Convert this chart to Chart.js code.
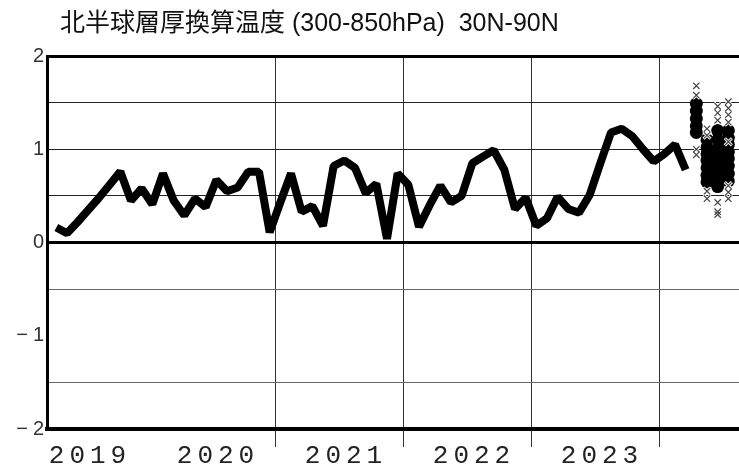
<!DOCTYPE html>
<html><head><meta charset="utf-8">
<script src="https://cdn.jsdelivr.net/npm/chart.js@4"></script>
<style>html,body{margin:0;padding:0;background:#fff}#wrap{width:739px;height:467px;position:relative}</style>
</head><body><div id="wrap"><canvas id="c"></canvas></div>
<script>
const chartTitle = '北半球層厚換算温度 (300-850hPa)  30N-90N';
const months = [
 '2019-04','2019-05','2019-06','2019-07','2019-08','2019-09','2019-10','2019-11','2019-12',
 '2020-01','2020-02','2020-03','2020-04','2020-05','2020-06','2020-07','2020-08','2020-09','2020-10','2020-11','2020-12',
 '2021-01','2021-02','2021-03','2021-04','2021-05','2021-06','2021-07','2021-08','2021-09','2021-10','2021-11','2021-12',
 '2022-01','2022-02','2022-03','2022-04','2022-05','2022-06','2022-07','2022-08','2022-09','2022-10','2022-11','2022-12',
 '2023-01','2023-02','2023-03','2023-04','2023-05','2023-06','2023-07','2023-08','2023-09','2023-10','2023-11','2023-12',
 '2024-01','2024-02','2024-03'];
const anomaly = [
 0.16,0.10,0.22,0.35,0.48,0.62,0.76,0.45,0.58,
 0.41,0.74,0.45,0.29,0.47,0.38,0.67,0.55,0.59,0.76,0.76,0.11,
 0.43,0.74,0.33,0.39,0.18,0.82,0.88,0.80,0.53,0.63,0.04,0.74,
 0.62,0.17,0.40,0.61,0.43,0.50,0.85,0.92,0.99,0.78,0.36,0.48,
 0.18,0.26,0.49,0.36,0.32,0.51,0.85,1.18,1.22,1.14,1.00,0.87,
 0.95,1.05,0.78];
const ensMonths = ['2024-04','2024-05','2024-06','2024-07'];
const ensDots = [
 [1.49,1.41,1.33,1.25,1.18],
 [1.10,1.02,0.95,0.88,0.80,0.72,0.65],
 [1.20,1.10,1.00,0.92,0.85,0.76,0.68,0.60],
 [1.20,1.12,1.05,0.97,0.90,0.82,0.74,0.66]];
const ensCrosses = [
 [1.68,1.58,1.00,0.94],
 [1.22,1.15,0.55,0.47],
 [1.46,1.39,1.31,0.43,0.33,0.30],
 [1.51,1.44,1.37,1.29,1.08,0.61,0.54,0.47]];
const yearLabels = ['2019','2020','2021','2022','2023'];
const yearEnds = ['2020-01','2021-01','2022-01','2023-01','2024-01'];

function monthStart(s){const p=s.split('-').map(Number);return (p[0]-2019)*12+(p[1]-1);}
function monthMid(s){return monthStart(s)+0.5;}

const lineData = months.map((m,i)=>({x:monthMid(m),y:anomaly[i]}));
const dotData = [], crossData = [];
ensMonths.forEach((m,i)=>{
  ensDots[i].forEach(v=>dotData.push({x:monthMid(m),y:v}));
  ensCrosses[i].forEach(v=>crossData.push({x:monthMid(m),y:v}));
});
const tickVals = yearEnds.map(monthStart);

const titlePlugin = {
  id:'titleText',
  beforeDraw(chart){ chart.ctx.letterSpacing='5px'; },
  afterDraw(chart){
    const c=chart.ctx; c.save(); c.letterSpacing='0px';
    c.font='25px "Liberation Sans","Noto Sans CJK JP"';
    c.fillStyle='#111'; c.textBaseline='alphabetic'; c.textAlign='left';
    c.fillText(chartTitle,60,31); c.restore();
  }
};

new Chart(document.getElementById('c'),{
  type:'scatter',
  data:{datasets:[
    {label:'cross', data:crossData, pointStyle:'crossRot', pointRadius:4.5, borderColor:'#444', borderWidth:1.2, backgroundColor:'#444', order:0},
    {label:'crossHalo', data:crossData, pointStyle:'crossRot', pointRadius:5, borderColor:'#fff', borderWidth:3, backgroundColor:'#fff', order:1},
    {label:'ens', data:dotData, pointStyle:'circle', pointRadius:6.5, backgroundColor:'#000', borderWidth:0, order:2},
    {label:'obs', data:lineData, showLine:true, borderColor:'#000', borderWidth:8, pointRadius:0, tension:0, borderJoinStyle:'bevel', order:3}
  ]},
  options:{
    responsive:true, maintainAspectRatio:false, animation:false,
    layout:{autoPadding:false, padding:{top:56,left:0,right:0,bottom:0}},
    plugins:{legend:{display:false}, tooltip:{enabled:false}, title:{display:false}},
    scales:{
      x:{type:'linear', min:2.625, max:67.5,
        afterBuildTicks(s){ s.ticks = tickVals.map(v=>({value:v})); },
        afterFit(s){ s.height = 38; s.paddingLeft = 0; s.paddingRight = 0; },
        grid:{color:c=>c.tick && c.tick.value===tickVals[0]?'rgba(0,0,0,0)':'#333', tickColor:c=>c.tick && c.tick.value===tickVals[0]?'rgba(0,0,0,0)':'#333', lineWidth:1, tickLength:18},
        border:{display:true,color:'#000',width:4},
        ticks:{autoSkip:false, maxRotation:0, labelOffset:-57, padding:-4, color:'#222',
          font:{family:'"Liberation Mono"', size:26, lineHeight:1},
          callback:(v,i)=>yearLabels[i]}
      },
      y:{min:-2, max:2,
        afterFit(s){ s.width = 47; },
        ticks:{stepSize:0.5, autoSkip:false, padding:-2, color:'#333',
          font:{family:'"Liberation Sans"', size:20},
          callback:v=>Number.isInteger(v)?(v<0?'\u2212'+Math.abs(v):String(v)):''},
        grid:{drawTicks:false,
          color:c=>{const v=c.tick?c.tick.value:0; if(v===-1) return 'rgba(0,0,0,0)'; if(v===0||v===2) return '#000'; return v>0?'#222':'#666';},
          lineWidth:c=>{const v=c.tick?c.tick.value:0; return (v===0||v===2)?3:1;}},
        border:{display:true,color:'#000',width:3}
      }
    }
  },
  plugins:[titlePlugin]
});
</script></body></html>
